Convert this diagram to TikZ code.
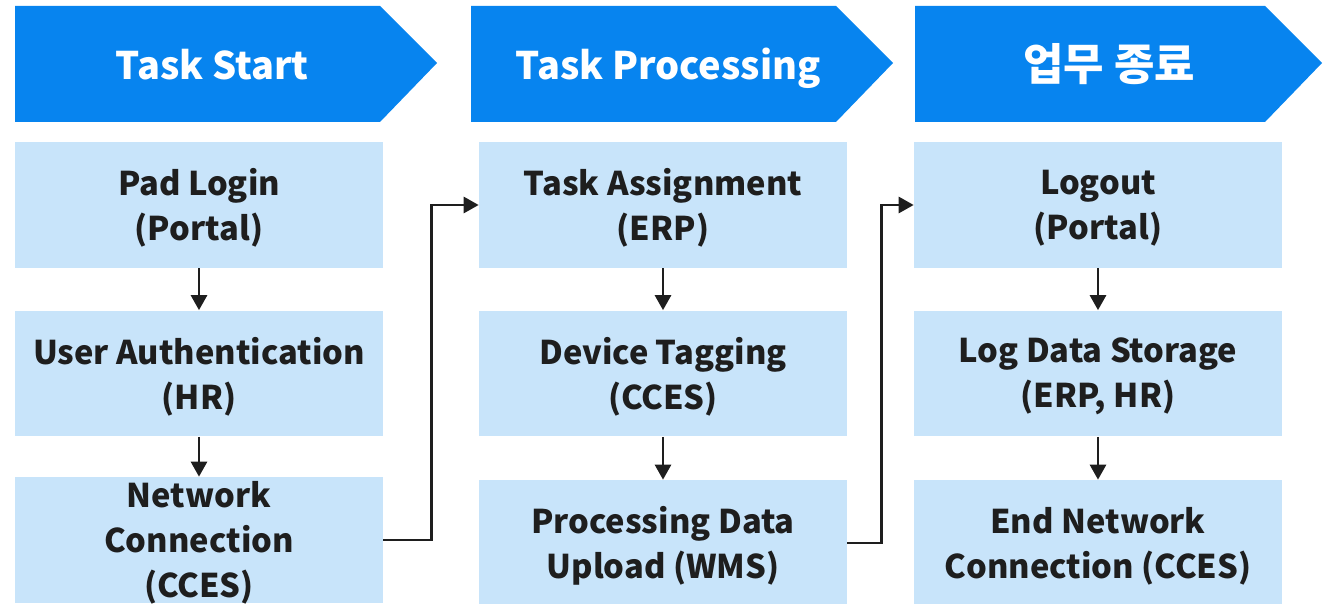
\documentclass[tikz,border=0pt]{standalone}
\usepackage{fontspec}
\setmainfont{Noto Sans CJK KR}
\usetikzlibrary{arrows.meta}
\definecolor{hdrblue}{HTML}{0784EF}
\definecolor{boxblue}{HTML}{C8E4FA}
\definecolor{inkgray}{HTML}{1E1E1E}

\begin{document}
\begin{tikzpicture}[x=0.02cm,y=-0.02cm,line cap=butt,line join=miter,
    hdrfill/.style={fill=hdrblue},
    hdrtext/.style={text=white,anchor=base,font=\fontsize{21.6}{26}\selectfont\bfseries},
    procbox/.style={fill=boxblue,minimum width=7.36cm,minimum height=2.52cm,inner sep=0pt},
    boxtext/.style={text=inkgray,align=center,yshift=-0.06cm,font=\fontsize{18.6}{25.6}\selectfont\bfseries},
    flow/.style={draw=inkgray,line width=1.6pt,-{Triangle[length=0.3cm,width=0.32cm]}}]
  \useasboundingbox (0,0) rectangle (1329,604);

  % --- phase headers ---
  \fill[hdrfill] (15,6) -- (380,6) -- (437,63) -- (380,122) -- (15,122) -- cycle;
  \node[hdrtext] (h1) at (212,80) {Task Start};
  \fill[hdrfill] (471,6) -- (836,6) -- (893,63) -- (836,122) -- (471,122) -- cycle;
  \node[hdrtext] (h2) at (668,80) {Task Processing};
  \fill[hdrfill] (915,6) -- (1265,6) -- (1322,63) -- (1265,122) -- (915,122) -- cycle;
  \node[hdrtext,font=\fontsize{25}{30}\selectfont\bfseries] (h3) at (1109,81) {업무 종료};

  % --- start column ---
  \node[procbox] (s1) at (199,205) {};
  \node[boxtext] at (s1) {Pad Login\\(Portal)};
  \node[procbox] (s2) at (199,373.5) {};
  \node[boxtext] at (s2) {User Authentication\\(HR)};
  \node[procbox] (s3) at (199,540) {};
  \node[boxtext] at (s3) {Network\\Connection\\(CCES)};

  % --- processing column ---
  \node[procbox] (p1) at (663,205) {};
  \node[boxtext] at (p1) {Task Assignment\\(ERP)};
  \node[procbox] (p2) at (663,373.5) {};
  \node[boxtext] at (p2) {Device Tagging\\(CCES)};
  \node[procbox] (p3) at (663,543) {};
  \node[boxtext] at (p3) {Processing Data\\Upload (WMS)};

  % --- end column ---
  \node[procbox] (e1) at (1098,205) {};
  \node[boxtext] at (e1) {Logout\\(Portal)};
  \node[procbox] (e2) at (1098,373.5) {};
  \node[boxtext] at (e2) {Log Data Storage\\(ERP, HR)};
  \node[procbox] (e3) at (1098,543) {};
  \node[boxtext] at (e3) {End Network\\Connection (CCES)};

  % --- arrows inside columns ---
  \draw[flow] (s1) -- (s2);
  \draw[flow] (s2) -- (s3);
  \draw[flow] (p1) -- (p2);
  \draw[flow] (p2) -- (p3);
  \draw[flow] (e1) -- (e2);
  \draw[flow] (e2) -- (e3);

  % --- arrows between columns ---
  \draw[flow] (s3.east) -- ++(48,0) |- (p1.west);
  \draw[flow] (p3.east) -- ++(34,0) |- (e1.west);
\end{tikzpicture}
\end{document}
